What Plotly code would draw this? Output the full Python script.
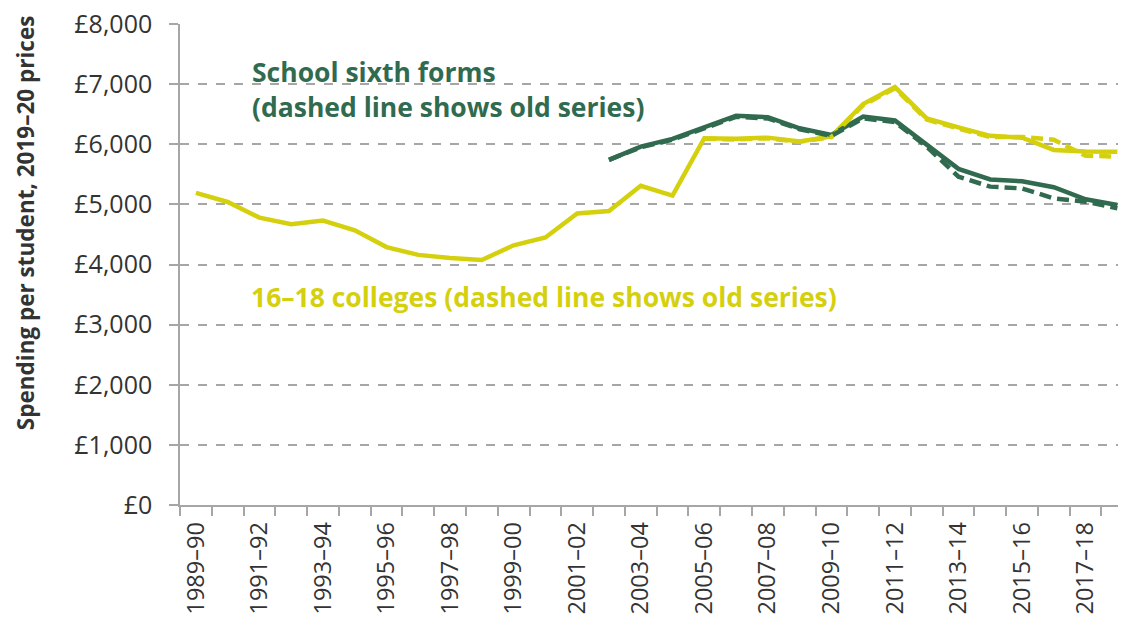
import plotly.graph_objects as go

# Academic years on the category axis
years = [
    "1989–90", "1990–91", "1991–92", "1992–93", "1993–94", "1994–95",
    "1995–96", "1996–97", "1997–98", "1998–99", "1999–00", "2000–01",
    "2001–02", "2002–03", "2003–04", "2004–05", "2005–06", "2006–07",
    "2007–08", "2008–09", "2009–10", "2010–11", "2011–12", "2012–13",
    "2013–14", "2014–15", "2015–16", "2016–17", "2017–18", "2018–19",
]

# Spending per student, 2019–20 prices (£)
colleges_new = [
    5190, 5040, 4780, 4670, 4730, 4570, 4290, 4160, 4110, 4075,
    4320, 4450, 4850, 4890, 5310, 5145, 6100, 6090, 6110, 6045,
    6130, 6670, 6950, 6430, 6280, 6140, 6110, 5905, 5880, 5875,
]
colleges_old = [
    None, None, None, None, None, None, None, None, None, None,
    None, None, None, None, None, None, 6090, 6080, 6100, 6040,
    6120, 6650, 6930, 6410, 6260, 6120, 6120, 6075, 5810, 5795,
]
sixth_new = [
    None, None, None, None, None, None, None, None, None, None,
    None, None, None, 5740, 5960, 6090, 6285, 6475, 6450, 6265,
    6155, 6460, 6395, 5990, 5590, 5415, 5385, 5285, 5085, 4990,
]
sixth_old = [
    None, None, None, None, None, None, None, None, None, None,
    None, None, None, 5740, 5950, 6075, 6270, 6455, 6430, 6250,
    6140, 6430, 6370, 5960, 5460, 5295, 5265, 5100, 5045, 4935,
]

y_ticks = [0, 1000, 2000, 3000, 4000, 5000, 6000, 7000, 8000]

YELLOW = "#D5D00E"
GREEN = "#316B4F"
GRID = "#A6A6A6"
TEXT = "#333333"
FONT = "Open Sans"

idx = list(range(len(years)))

fig = go.Figure()
fig.add_trace(go.Scatter(x=idx, y=colleges_new, mode="lines",
                         line=dict(color=YELLOW, width=4.5)))
fig.add_trace(go.Scatter(x=idx, y=sixth_new, mode="lines",
                         line=dict(color=GREEN, width=4.5)))
fig.add_trace(go.Scatter(x=idx, y=colleges_old, mode="lines",
                         line=dict(color=YELLOW, width=4.5, dash="12px,6px")))
fig.add_trace(go.Scatter(x=idx, y=sixth_old, mode="lines",
                         line=dict(color=GREEN, width=4.5, dash="12px,6px")))

fig.update_layout(
    width=1124, height=626,
    margin=dict(l=180, r=6, t=24, b=121),
    paper_bgcolor="white", plot_bgcolor="white",
    showlegend=False,
    font=dict(family=FONT, color=TEXT),
    xaxis=dict(
        range=[-0.5, 29.02],
        tickmode="array",
        tickvals=idx[::2],
        ticktext=years[::2],
        tickangle=-90,
        ticks="",
        tickfont=dict(size=23.5, color=TEXT, family=FONT),
        ticklabelstandoff=6,
        minor=dict(tickmode="array",
                   tickvals=[i - 0.5 for i in idx],
                   ticks="outside", ticklen=9, tickcolor=GRID, tickwidth=1.5,
                   showgrid=False),
        showline=True, linecolor=GRID, linewidth=1.5,
        showgrid=False, zeroline=False,
    ),
    yaxis=dict(
        range=[0, 8000],
        tickmode="array",
        tickvals=y_ticks,
        ticktext=[f"£{v:,}" for v in y_ticks],
        ticks="outside", ticklen=9, tickcolor=GRID, tickwidth=1.5,
        tickfont=dict(size=25, color=TEXT, family=FONT),
        ticklabelstandoff=12,
        showline=True, linecolor=GRID, linewidth=1.5,
        showgrid=True, gridcolor=GRID, gridwidth=1.5, griddash="dash",
        zeroline=False,
    ),
)

annotations = [
    dict(text="<b>Spending per student, 2019–20 prices</b>",
         xref="paper", yref="paper", x=0, y=0.586, xshift=-155,
         textangle=-90, showarrow=False, xanchor="center", yanchor="middle",
         font=dict(size=22.5, color=TEXT, family=FONT)),
    dict(text="<b>School sixth forms</b>",
         xref="paper", yref="paper", x=0.0746, y=0.900,
         showarrow=False, xanchor="left", yanchor="middle",
         font=dict(size=26.5, color=GREEN, family=FONT)),
    dict(text="<b>(dashed line shows old series)</b>",
         xref="paper", yref="paper", x=0.0746, y=0.827,
         showarrow=False, xanchor="left", yanchor="middle",
         font=dict(size=26.5, color=GREEN, family=FONT)),
    dict(text="<b>16–18 colleges (dashed line shows old series)</b>",
         xref="paper", yref="paper", x=0.0735, y=0.433,
         showarrow=False, xanchor="left", yanchor="middle",
         font=dict(size=26.5, color=YELLOW, family=FONT)),
]
fig.update_layout(annotations=annotations)

fig.write_html("out.html")
